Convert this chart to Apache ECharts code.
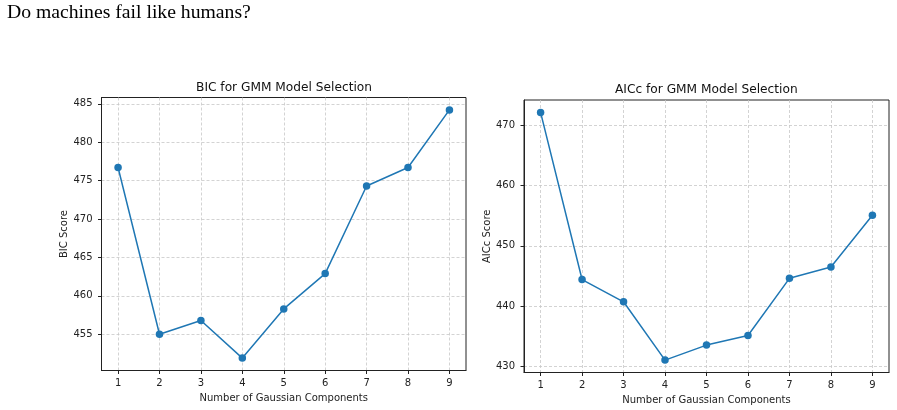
<!DOCTYPE html>
<html>
<head>
<meta charset="utf-8">
<script src="https://cdn.jsdelivr.net/npm/echarts@6/dist/echarts.min.js"></script>
<style>
  html, body { margin: 0; padding: 0; background: #fff; }
  #main { width: 897px; height: 410px; }
</style>
</head>
<body>
<div id="main"></div>
<script>
// number of gaussian components (x)
var components = [1, 2, 3, 4, 5, 6, 7, 8, 9];
// scores
var bicScores = [476.7, 455.0, 456.8, 451.9, 458.3, 462.9, 474.3, 476.7, 484.2];
var aiccScores = [472.2, 444.4, 440.7, 431.0, 433.5, 435.1, 444.6, 446.5, 455.1];
// tick labels
var bicTicks = [455, 460, 465, 470, 475, 480, 485];
var aiccTicks = [430, 440, 450, 460, 470];

var blue = '#1f77b4';
var font = 'DejaVu Sans';

function pairs(ys) {
    return components.map(function (c, i) { return [c, ys[i]]; });
}

// matplotlib style padding: 5% of data range on each side
function padded(arr) {
    var lo = Math.min.apply(null, arr), hi = Math.max.apply(null, arr);
    var m = (hi - lo) * 0.05;
    return [lo - m, hi + m];
}

function xAxisFor(gridIndex) {
    var r = padded(components);
    return {
        type: 'value', gridIndex: gridIndex, min: r[0], max: r[1],
        name: 'Number of Gaussian Components', nameLocation: 'middle', nameGap: 20,
        nameTextStyle: { fontFamily: font, fontSize: 10, color: '#222' },
        axisLine: { show: true, onZero: false, lineStyle: { color: '#222', width: 1 } },
        axisTick: { show: true, length: 3.5, lineStyle: { color: '#222' }, customValues: components },
        axisLabel: { fontFamily: font, fontSize: 10, color: '#222', margin: 8, customValues: components },
        splitLine: { show: true, lineStyle: { color: '#c8c8c8', type: [3, 2], width: 0.8 } }
    };
}

function yAxisFor(gridIndex, ys, ticks, name) {
    var r = padded(ys);
    return {
        type: 'value', gridIndex: gridIndex, min: r[0], max: r[1],
        name: name, nameLocation: 'middle', nameGap: 31.5,
        nameTextStyle: { fontFamily: font, fontSize: 10, color: '#222' },
        axisLine: { show: true, lineStyle: { color: '#222', width: 1 } },
        axisTick: { show: true, length: 3.5, lineStyle: { color: '#222' }, customValues: ticks },
        axisLabel: { fontFamily: font, fontSize: 10, color: '#222', margin: 9, customValues: ticks },
        splitLine: { show: true, lineStyle: { color: '#c8c8c8', type: [3, 2], width: 0.8 } }
    };
}

function lineSeries(i, ys) {
    return {
        type: 'line', xAxisIndex: i, yAxisIndex: i, data: pairs(ys),
        symbol: 'circle', symbolSize: 7.5, showAllSymbol: true,
        lineStyle: { color: blue, width: 1.5 },
        itemStyle: { color: blue },
        animation: false
    };
}

function caption(text, x, y, size, family) {
    return {
        type: 'text', x: x, y: y, silent: true,
        style: { text: text, fontFamily: family, fontSize: size, fill: '#111',
                 textAlign: 'center', textVerticalAlign: 'middle' }
    };
}

var chart = echarts.init(document.getElementById('main'), null, { renderer: 'canvas' });
chart.setOption({
    animation: false,
    graphic: [
        { type: 'text', x: 7, y: 13, silent: true,
          style: { text: 'Do machines fail like humans?', fontFamily: 'Liberation Serif', fontSize: 19.7,
                   fill: '#000', textAlign: 'left', textVerticalAlign: 'middle' } },
        caption('BIC for GMM Model Selection', 284, 87.5, 12.2, font),
        caption('AICc for GMM Model Selection', 706.3, 89.5, 12.2, font)
    ],
    grid: [
        { left: 101.5, top: 97.5, width: 364.5, height: 273, outerBoundsMode: 'none', containLabel: false,
          show: true, borderColor: '#222', borderWidth: 1, backgroundColor: 'transparent' },
        { left: 524, top: 100, width: 365, height: 272.5, outerBoundsMode: 'none', containLabel: false,
          show: true, borderColor: '#222', borderWidth: 1, backgroundColor: 'transparent' }
    ],
    xAxis: [xAxisFor(0), xAxisFor(1)],
    yAxis: [
        yAxisFor(0, bicScores, bicTicks, 'BIC Score'),
        yAxisFor(1, aiccScores, aiccTicks, 'AICc Score')
    ],
    series: [lineSeries(0, bicScores), lineSeries(1, aiccScores)]
});
</script>
</body>
</html>
